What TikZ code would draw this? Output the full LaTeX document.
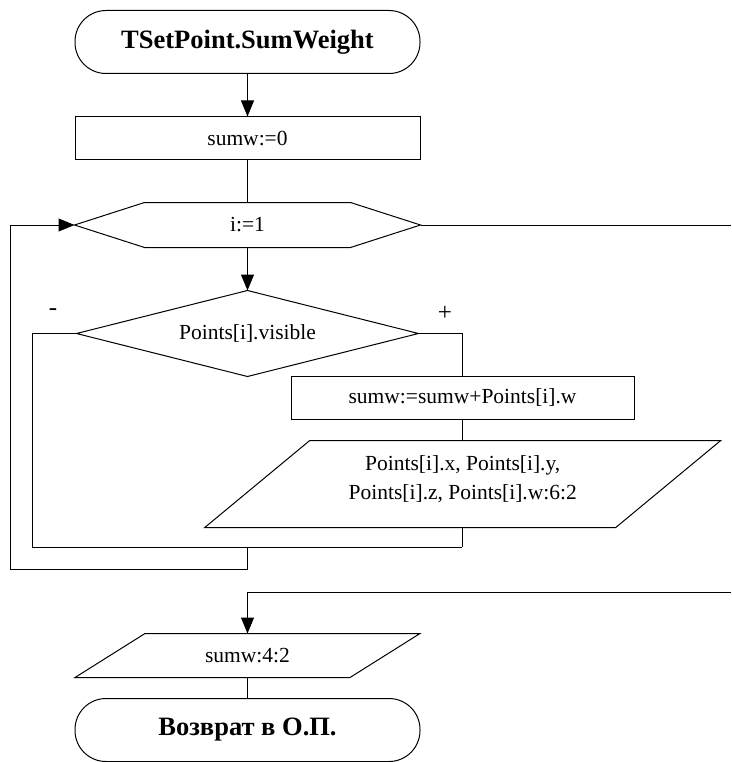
\documentclass[tikz,border=0pt]{standalone}
\usepackage{fontspec}
\setmainfont{Liberation Serif}
\usetikzlibrary{arrows.meta,calc}

\begin{document}
\begin{tikzpicture}[x=1pt,y=-1pt,
  line width=1pt,
  every node/.style={inner sep=0pt, font=\fontsize{21.5}{29}\selectfont},
  flow/.style={-{Triangle[length=16pt,width=13pt]}},
  termbox/.style={draw, rounded corners=31pt, minimum width=345pt, minimum height=63pt,
                  font=\fontsize{26.5}{30}\selectfont\bfseries},
  procbox/.style={draw, minimum height=43pt},
  shapebox/.style={minimum height=#1},
  branchlabel/.style={font=\fontsize{25}{28}\selectfont}
]
\useasboundingbox[fill=white] (0,0) rectangle (731,762);

% start and end
\node[termbox] (start) at (247.5,42) {TSetPoint.SumWeight};
\node[procbox, minimum width=345pt] (init) at (247.5,138.5) {sumw:=0};

% loop header (hexagon)
\node[shapebox=44pt, minimum width=345pt] (loop) at (247.5,225) {i:=1};
\draw (loop.west) -- ($(loop.north west)+(70,0)$) -- ($(loop.north east)+(-70,0)$)
      -- (loop.east) -- ($(loop.south east)+(-70,0)$) -- ($(loop.south west)+(70,0)$) -- cycle;

% condition (diamond)
\node[shapebox=85pt, minimum width=341pt] (cond) at (247.5,333.5) {Points[i].visible};
\draw (cond.west) -- (cond.north) -- (cond.east) -- (cond.south) -- cycle;
\node[branchlabel] (minus) at (53,312) {-};
\node[branchlabel] (plus) at (445,313) {+};

% accumulate
\node[procbox, minimum width=343pt] (acc) at (462.5,397.5) {sumw:=sumw+Points[i].w};

% output of a point (parallelogram)
\node[shapebox=86pt, minimum width=410pt] (outp) at (462.75,484) {};
\node[align=center] (outtext) at (462.75,479) {Points[i].x, Points[i].y,\\Points[i].z, Points[i].w:6:2};
\draw ($(outp.north west)+(52.5,0)$) -- ($(outp.north east)+(52.5,0)$)
      -- ($(outp.south east)+(-52.5,0)$) -- ($(outp.south west)+(-52.5,0)$) -- cycle;

% output of the sum (parallelogram)
\node[shapebox=43pt, minimum width=274pt] (outs) at (247.5,655.5) {sumw:4:2};
\draw ($(outs.north west)+(35,0)$) -- ($(outs.north east)+(35,0)$)
      -- ($(outs.south east)+(-35,0)$) -- ($(outs.south west)+(-35,0)$) -- cycle;

\node[termbox] (stop) at (247.5,730) {Возврат в О.П.};

% routing points
\coordinate (noL) at (32,333.5);
\coordinate (noB) at (32,547);
\coordinate (joinR) at (462,547);
\coordinate (joinM) at (247.5,547);
\coordinate (backM) at (247.5,569);
\coordinate (backL) at (10,569);
\coordinate (exitA) at (731,225);
\coordinate (exitB) at (731,592);
\coordinate (exitM) at (247.5,592);

% connectors
\draw[flow] (start) -- (init);
\draw (init) -- (loop.north);
\draw[flow] (loop.south) -- (cond.north);
\draw (cond.east) -| (acc.north);
\draw (acc.south) -- (outp.north -| acc.south);
\draw (outp.south -| joinR) -- (joinR);
\draw (cond.west) -- (noL) -- (noB) -- (joinR);
\draw[flow] (joinM) -- (backM) -- (backL) |- (loop.west);
\draw (loop.east) -- (exitA);
\draw[flow] (exitB) -- (exitM) -- (outs.north);
\draw (outs.south) -- (stop.north);
\end{tikzpicture}
\end{document}
